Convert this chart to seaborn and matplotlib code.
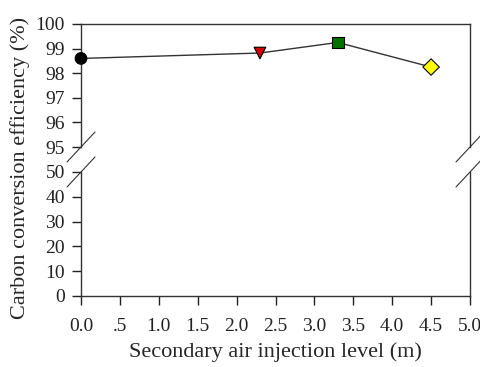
import numpy as np
import pandas as pd
import seaborn as sns
import matplotlib
matplotlib.use("Agg")
import matplotlib.pyplot as plt

# data
levels = [0.0, 2.3, 3.3, 4.5]
efficiency = [98.6, 98.82, 99.25, 98.25]
marker_names = ["a", "b", "c", "d"]
marker_colors = ["#000000", "#d40000", "#007000", "#ffff00"]
marker_shapes = ["o", "v", "s", "D"]
x_ticks = [0.0, 0.5, 1.0, 1.5, 2.0, 2.5, 3.0, 3.5, 4.0, 4.5, 5.0]
x_tick_labels = ["0.0", ".5", "1.0", "1.5", "2.0", "2.5", "3.0", "3.5", "4.0", "4.5", "5.0"]
upper_ticks = [95, 96, 97, 98, 99, 100]
lower_ticks = [0, 10, 20, 30, 40, 50]

df = pd.DataFrame({"level": levels, "eff": efficiency, "name": marker_names})

sns.set_style("ticks")
plt.rcParams["font.family"] = ["Liberation Serif", "DejaVu Serif"]
plt.rcParams["xtick.major.size"] = 6.5
plt.rcParams["ytick.major.size"] = 6.5
plt.rcParams["axes.linewidth"] = 1.0

fig = plt.figure(figsize=(4.81, 3.67), dpi=100)
left, right = 81 / 481, 470 / 481
ax_top = fig.add_axes([left, 1 - 147 / 367, right - left, (147 - 24) / 367])
ax_bot = fig.add_axes([left, 1 - 296 / 367, right - left, (296 - 172) / 367])

sns.lineplot(data=df, x="level", y="eff", color="#333333", linewidth=1.0, ax=ax_top, zorder=2)
sns.scatterplot(data=df, x="level", y="eff", hue="name", style="name",
                palette=dict(zip(marker_names, marker_colors)),
                markers=dict(zip(marker_names, marker_shapes)),
                s=70, edgecolor="black", linewidth=0.8, ax=ax_top, zorder=3,
                legend=False, clip_on=False)

for ax in (ax_top, ax_bot):
    ax.set_xlim(0, 5)
    ax.set_xlabel("")
    ax.set_ylabel("")
    ax.tick_params(labelsize=14, width=1.0, colors="#222222")
    ax.tick_params(axis="y", pad=5)
    ax.tick_params(axis="x", pad=9)

ax_top.set_ylim(95, 100)
ax_top.set_yticks(upper_ticks)
ax_top.set_xticks([])
ax_top.spines["bottom"].set_visible(False)

ax_bot.set_ylim(0, 50)
ax_bot.set_yticks(lower_ticks)
ax_bot.set_xticks(x_ticks)
ax_bot.set_xticklabels(x_tick_labels)
ax_bot.spines["top"].set_visible(False)

for ax in (ax_top, ax_bot):
    for s in ax.spines.values():
        s.set_color("#333333")

# break marks on both sides
kw = dict(color="#333333", lw=0.8, clip_on=False, transform=fig.transFigure)
for xs in (left, right):
    for ys in (1 - 147 / 367, 1 - 172 / 367):
        fig.add_artist(plt.Line2D([xs - 14 / 481, xs + 14 / 481],
                                  [ys - 15 / 367, ys + 15 / 367], **kw))

fig.text(0.5 * (left + right), 1 - 352 / 367, "Secondary air injection level (m)",
         ha="center", va="center", fontsize=16)
fig.text(20 / 481, 0.5 * ((1 - 18 / 367) + (1 - 318 / 367)), "Carbon conversion efficiency (%)",
         ha="center", va="center", rotation=90, fontsize=16)

fig.savefig("out.png", dpi=100)
